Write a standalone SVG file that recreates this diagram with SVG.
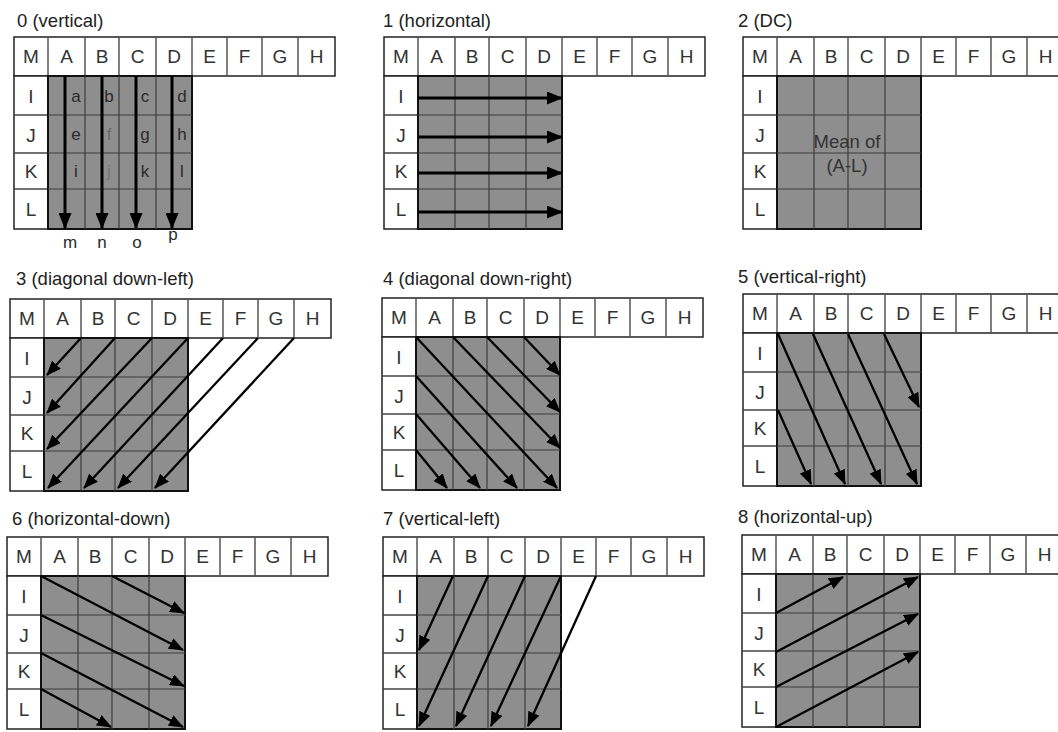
<svg xmlns="http://www.w3.org/2000/svg" xmlns:xlink="http://www.w3.org/1999/xlink" width="1058" height="732" viewBox="0 0 1058 732">
<defs>
<style>
text{font-family:"Liberation Sans",Arial,sans-serif;}
.ttl{font-size:18.5px;fill:#222;}
.c{font-size:19px;fill:#333;text-anchor:middle;}
.s{font-size:17px;fill:#2a2a2a;text-anchor:middle;}
.a{stroke:#000;stroke-width:2.3;fill:none;marker-end:url(#ah);}
.b{stroke:#000;stroke-width:3;fill:none;marker-end:url(#ahb);}
</style>
<marker id="ah" markerUnits="userSpaceOnUse" markerWidth="15" markerHeight="12" refX="14" refY="6" orient="auto">
<path d="M0,0 L15,6 L0,12 z" fill="#000"/>
</marker>
<marker id="ahb" markerUnits="userSpaceOnUse" markerWidth="16" markerHeight="13" refX="15" refY="6.5" orient="auto">
<path d="M0,0 L16,6.5 L0,13 z" fill="#000"/>
</marker>
<g id="grid">
<rect x="0" y="0" width="321" height="39" fill="#fff" stroke="#222" stroke-width="1.5"/>
<path d="M34,0V39 M71,0V39 M105,0V39 M142,0V39 M178,0V39 M213,0V39 M248,0V39 M284,0V39" stroke="#555" stroke-width="1.5" fill="none"/>
<rect x="0" y="39" width="34" height="153" fill="#fff" stroke="#222" stroke-width="1.5"/>
<path d="M0,78H34 M0,116H34 M0,152H34" stroke="#444" stroke-width="1.3" fill="none"/>
<rect x="34" y="39" width="144" height="153" fill="#8e8e8e" stroke="#111" stroke-width="2"/>
<path d="M71,39V192 M105,39V192 M142,39V192 M34,78H178 M34,116H178 M34,152H178" stroke="#3c3c3c" stroke-width="1.2" fill="none"/>
</g>
</defs>
<rect width="1058" height="732" fill="#fff"/>

<g id="mode0" transform="translate(14,37)">
<use href="#grid" xlink:href="#grid"/>
<text class="ttl" x="3" y="-10">0 (vertical)</text>
<text class="c" x="17" y="26">M</text><text class="c" x="52.5" y="26">A</text><text class="c" x="88" y="26">B</text><text class="c" x="123.5" y="26">C</text><text class="c" x="160" y="26">D</text><text class="c" x="195.5" y="26">E</text><text class="c" x="230.5" y="26">F</text><text class="c" x="266" y="26">G</text><text class="c" x="302.5" y="26">H</text>
<text class="c" x="17" y="66">I</text><text class="c" x="17" y="105">J</text><text class="c" x="17" y="141">K</text><text class="c" x="17" y="179">L</text>
<text class="s" x="62" y="65">a</text><text class="s" x="95" y="65">b</text><text class="s" x="131" y="65">c</text><text class="s" x="168" y="65">d</text>
<text class="s" x="62" y="103">e</text><text class="s" x="95" y="103" opacity="0.35">f</text><text class="s" x="131" y="103">g</text><text class="s" x="168" y="103">h</text>
<text class="s" x="62" y="140">i</text><text class="s" x="95" y="140" opacity="0.25">j</text><text class="s" x="131" y="140">k</text><text class="s" x="168" y="140">l</text>
<text class="s" x="56" y="211">m</text><text class="s" x="88" y="211">n</text><text class="s" x="123" y="211">o</text><text class="s" x="159" y="203">p</text>
</g>

<g id="mode1" transform="translate(384,37)">
<use href="#grid" xlink:href="#grid"/>
<text class="ttl" x="-1" y="-10">1 (horizontal)</text>
<text class="c" x="17" y="26">M</text><text class="c" x="52.5" y="26">A</text><text class="c" x="88" y="26">B</text><text class="c" x="123.5" y="26">C</text><text class="c" x="160" y="26">D</text><text class="c" x="195.5" y="26">E</text><text class="c" x="230.5" y="26">F</text><text class="c" x="266" y="26">G</text><text class="c" x="302.5" y="26">H</text>
<text class="c" x="17" y="66">I</text><text class="c" x="17" y="105">J</text><text class="c" x="17" y="141">K</text><text class="c" x="17" y="179">L</text>
</g>

<g id="mode2" transform="translate(743,37)">
<use href="#grid" xlink:href="#grid"/>
<text class="ttl" x="-5" y="-10">2 (DC)</text>
<text class="c" x="17" y="26">M</text><text class="c" x="52.5" y="26">A</text><text class="c" x="88" y="26">B</text><text class="c" x="123.5" y="26">C</text><text class="c" x="160" y="26">D</text><text class="c" x="195.5" y="26">E</text><text class="c" x="230.5" y="26">F</text><text class="c" x="266" y="26">G</text><text class="c" x="302.5" y="26">H</text>
<text class="c" x="17" y="66">I</text><text class="c" x="17" y="105">J</text><text class="c" x="17" y="141">K</text><text class="c" x="17" y="179">L</text>
<text class="c" x="104" y="111" style="font-size:18.5px">Mean of</text>
<text class="c" x="104" y="135" style="font-size:18.5px">(A-L)</text>
</g>

<g id="mode3" transform="translate(10,299)">
<use href="#grid" xlink:href="#grid"/>
<text class="ttl" x="6" y="-14">3 (diagonal down-left)</text>
<text class="c" x="17" y="26">M</text><text class="c" x="52.5" y="26">A</text><text class="c" x="88" y="26">B</text><text class="c" x="123.5" y="26">C</text><text class="c" x="160" y="26">D</text><text class="c" x="195.5" y="26">E</text><text class="c" x="230.5" y="26">F</text><text class="c" x="266" y="26">G</text><text class="c" x="302.5" y="26">H</text>
<text class="c" x="17" y="66">I</text><text class="c" x="17" y="105">J</text><text class="c" x="17" y="141">K</text><text class="c" x="17" y="179">L</text>
</g>

<g id="mode4" transform="translate(382,298)">
<use href="#grid" xlink:href="#grid"/>
<text class="ttl" x="1" y="-13">4 (diagonal down-right)</text>
<text class="c" x="17" y="26">M</text><text class="c" x="52.5" y="26">A</text><text class="c" x="88" y="26">B</text><text class="c" x="123.5" y="26">C</text><text class="c" x="160" y="26">D</text><text class="c" x="195.5" y="26">E</text><text class="c" x="230.5" y="26">F</text><text class="c" x="266" y="26">G</text><text class="c" x="302.5" y="26">H</text>
<text class="c" x="17" y="66">I</text><text class="c" x="17" y="105">J</text><text class="c" x="17" y="141">K</text><text class="c" x="17" y="179">L</text>
</g>

<g id="mode5" transform="translate(743,294)">
<use href="#grid" xlink:href="#grid"/>
<text class="ttl" x="-5" y="-11">5 (vertical-right)</text>
<text class="c" x="17" y="26">M</text><text class="c" x="52.5" y="26">A</text><text class="c" x="88" y="26">B</text><text class="c" x="123.5" y="26">C</text><text class="c" x="160" y="26">D</text><text class="c" x="195.5" y="26">E</text><text class="c" x="230.5" y="26">F</text><text class="c" x="266" y="26">G</text><text class="c" x="302.5" y="26">H</text>
<text class="c" x="17" y="66">I</text><text class="c" x="17" y="105">J</text><text class="c" x="17" y="141">K</text><text class="c" x="17" y="179">L</text>
</g>

<g id="mode6" transform="translate(7,537)">
<use href="#grid" xlink:href="#grid"/>
<text class="ttl" x="5" y="-12">6 (horizontal-down)</text>
<text class="c" x="17" y="26">M</text><text class="c" x="52.5" y="26">A</text><text class="c" x="88" y="26">B</text><text class="c" x="123.5" y="26">C</text><text class="c" x="160" y="26">D</text><text class="c" x="195.5" y="26">E</text><text class="c" x="230.5" y="26">F</text><text class="c" x="266" y="26">G</text><text class="c" x="302.5" y="26">H</text>
<text class="c" x="17" y="66">I</text><text class="c" x="17" y="105">J</text><text class="c" x="17" y="141">K</text><text class="c" x="17" y="179">L</text>
</g>

<g id="mode7" transform="translate(383,537)">
<use href="#grid" xlink:href="#grid"/>
<text class="ttl" x="0" y="-12">7 (vertical-left)</text>
<text class="c" x="17" y="26">M</text><text class="c" x="52.5" y="26">A</text><text class="c" x="88" y="26">B</text><text class="c" x="123.5" y="26">C</text><text class="c" x="160" y="26">D</text><text class="c" x="195.5" y="26">E</text><text class="c" x="230.5" y="26">F</text><text class="c" x="266" y="26">G</text><text class="c" x="302.5" y="26">H</text>
<text class="c" x="17" y="66">I</text><text class="c" x="17" y="105">J</text><text class="c" x="17" y="141">K</text><text class="c" x="17" y="179">L</text>
</g>

<g id="mode8" transform="translate(742,535)">
<use href="#grid" xlink:href="#grid"/>
<text class="ttl" x="-4" y="-12">8 (horizontal-up)</text>
<text class="c" x="17" y="26">M</text><text class="c" x="52.5" y="26">A</text><text class="c" x="88" y="26">B</text><text class="c" x="123.5" y="26">C</text><text class="c" x="160" y="26">D</text><text class="c" x="195.5" y="26">E</text><text class="c" x="230.5" y="26">F</text><text class="c" x="266" y="26">G</text><text class="c" x="302.5" y="26">H</text>
<text class="c" x="17" y="66">I</text><text class="c" x="17" y="105">J</text><text class="c" x="17" y="141">K</text><text class="c" x="17" y="179">L</text>
</g>

<g id="connectors">
<g transform="translate(14,37)">
<path class="b" d="M51,39V191"/><path class="b" d="M88,39V191"/><path class="b" d="M122,39V191"/><path class="b" d="M158,39V191"/>
</g>
<g transform="translate(384,37)">
<path class="b" d="M34,61H178"/><path class="b" d="M34,100H178"/><path class="b" d="M34,136H178"/><path class="b" d="M34,175H178"/>
</g>
<g transform="translate(10,299)">
<path class="a" d="M71,39L37,76"/><path class="a" d="M105,39L37,114"/><path class="a" d="M142,39L37,150"/><path class="a" d="M178,39L38,189"/><path class="a" d="M213,39L74,189"/><path class="a" d="M248,39L108,189"/><path class="a" d="M284,39L145,189"/>
</g>
<g transform="translate(382,298)">
<path class="a" d="M34,39L175,190"/><path class="a" d="M71,39L178,150"/><path class="a" d="M105,39L178,114"/><path class="a" d="M142,39L178,77"/><path class="a" d="M34,78L135,190"/><path class="a" d="M34,116L98,190"/><path class="a" d="M34,152L65,190"/>
</g>
<g transform="translate(743,294)">
<path class="a" d="M35,40L102,190"/><path class="a" d="M70,40L138,190"/><path class="a" d="M105,40L174,190"/><path class="a" d="M141,40L176,113"/><path class="a" d="M35,116L68,190"/>
</g>
<g transform="translate(7,537)">
<path class="a" d="M34,39L176,113"/><path class="a" d="M105,39L177,76"/><path class="a" d="M34,78L177,149"/><path class="a" d="M34,116L176,190"/><path class="a" d="M34,152L104,190"/>
</g>
<g transform="translate(383,537)">
<path class="a" d="M70,39L36,113"/><path class="a" d="M105,39L36,189"/><path class="a" d="M142,39L73,189"/><path class="a" d="M178,39L108,189"/><path class="a" d="M213,39L145,189"/>
</g>
<g transform="translate(742,535)">
<path class="a" d="M34,78L101,42"/><path class="a" d="M34,117L176,42"/><path class="a" d="M34,152L176,79"/><path class="a" d="M34,192L176,117"/>
</g>
</g>
</svg>
